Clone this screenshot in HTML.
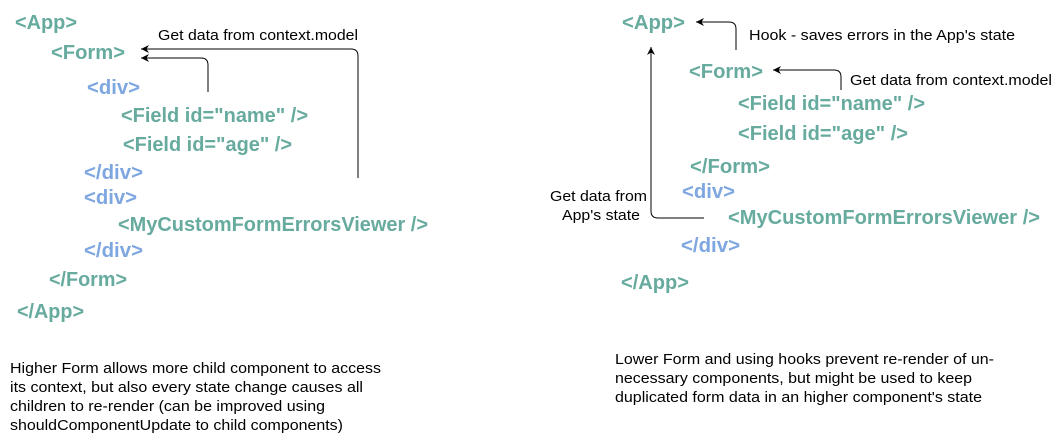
<!DOCTYPE html>
<html><head><meta charset="utf-8"><style>
html,body{margin:0;padding:0;background:#fff;width:1054px;height:433px;overflow:hidden}
svg{display:block}
.g{fill:#67AB9F;font:bold 20px "Liberation Sans",sans-serif}
.b{fill:#7EA6E0;font:bold 20px "Liberation Sans",sans-serif}
.t{fill:#000;font:15px "Liberation Sans",sans-serif}
</style></head><body>
<svg width="1054" height="433" viewBox="0 0 1054 433">
<defs><marker id="a" markerWidth="10" markerHeight="10" refX="8" refY="4" orient="auto" markerUnits="userSpaceOnUse"><path d="M0,0 L8,4 L0,8 L2.5,4 Z" fill="#000"/></marker></defs>
<g lengthAdjust="spacingAndGlyphs">
<!-- left -->
<text class="g" x="15" y="29" textLength="62" lengthAdjust="spacingAndGlyphs">&lt;App&gt;</text>
<text class="g" x="51" y="59" textLength="74" lengthAdjust="spacingAndGlyphs">&lt;Form&gt;</text>
<text class="b" x="87" y="94" textLength="53" lengthAdjust="spacingAndGlyphs">&lt;div&gt;</text>
<text class="g" x="121" y="122" textLength="187" lengthAdjust="spacingAndGlyphs">&lt;Field id="name" /&gt;</text>
<text class="g" x="123" y="151" textLength="169" lengthAdjust="spacingAndGlyphs">&lt;Field id="age" /&gt;</text>
<text class="b" x="84" y="179" textLength="59" lengthAdjust="spacingAndGlyphs">&lt;/div&gt;</text>
<text class="b" x="84" y="204" textLength="53" lengthAdjust="spacingAndGlyphs">&lt;div&gt;</text>
<text class="g" x="118" y="231" textLength="310" lengthAdjust="spacingAndGlyphs">&lt;MyCustomFormErrorsViewer /&gt;</text>
<text class="b" x="84" y="257" textLength="59" lengthAdjust="spacingAndGlyphs">&lt;/div&gt;</text>
<text class="g" x="49" y="286" textLength="78" lengthAdjust="spacingAndGlyphs">&lt;/Form&gt;</text>
<text class="g" x="17" y="318" textLength="67" lengthAdjust="spacingAndGlyphs">&lt;/App&gt;</text>
<text class="t" x="158" y="40" textLength="200" lengthAdjust="spacingAndGlyphs">Get data from context.model</text>
<path d="M358,178 V56 Q358,49 351,49 H141" fill="none" stroke="#000" stroke-width="1" marker-end="url(#a)"/>
<path d="M208,92 V65 Q208,58 201,58 H141" fill="none" stroke="#000" stroke-width="1" marker-end="url(#a)"/>
<text class="t" x="10" y="373" textLength="371" lengthAdjust="spacingAndGlyphs">Higher Form allows more child component to access</text>
<text class="t" x="10" y="392" textLength="353" lengthAdjust="spacingAndGlyphs">its context, but also every state change causes all</text>
<text class="t" x="10" y="411" textLength="315" lengthAdjust="spacingAndGlyphs">children to re-render (can be improved using</text>
<text class="t" x="10" y="430" textLength="333" lengthAdjust="spacingAndGlyphs">shouldComponentUpdate to child components)</text>
<!-- right -->
<text class="g" x="622" y="29" textLength="63" lengthAdjust="spacingAndGlyphs">&lt;App&gt;</text>
<text class="g" x="689" y="78" textLength="74" lengthAdjust="spacingAndGlyphs">&lt;Form&gt;</text>
<text class="g" x="738" y="110" textLength="187" lengthAdjust="spacingAndGlyphs">&lt;Field id="name" /&gt;</text>
<text class="g" x="738" y="140" textLength="170" lengthAdjust="spacingAndGlyphs">&lt;Field id="age" /&gt;</text>
<text class="g" x="690" y="173" textLength="80" lengthAdjust="spacingAndGlyphs">&lt;/Form&gt;</text>
<text class="b" x="682" y="198" textLength="53" lengthAdjust="spacingAndGlyphs">&lt;div&gt;</text>
<text class="g" x="728" y="224" textLength="312" lengthAdjust="spacingAndGlyphs">&lt;MyCustomFormErrorsViewer /&gt;</text>
<text class="b" x="681" y="252" textLength="59" lengthAdjust="spacingAndGlyphs">&lt;/div&gt;</text>
<text class="g" x="621" y="289" textLength="68" lengthAdjust="spacingAndGlyphs">&lt;/App&gt;</text>
<text class="t" x="749" y="40" textLength="266" lengthAdjust="spacingAndGlyphs">Hook - saves errors in the App's state</text>
<text class="t" x="850" y="85" textLength="202" lengthAdjust="spacingAndGlyphs">Get data from context.model</text>
<text class="t" x="550" y="201" textLength="97" lengthAdjust="spacingAndGlyphs">Get data from</text>
<text class="t" x="562" y="220" textLength="78" lengthAdjust="spacingAndGlyphs">App's state</text>
<path d="M736,50 V29 Q736,22 729,22 H696" fill="none" stroke="#000" stroke-width="1" marker-end="url(#a)"/>
<path d="M841,90 V77 Q841,70 834,70 H773" fill="none" stroke="#000" stroke-width="1" marker-end="url(#a)"/>
<path d="M704,218 H658 Q651,218 651,211 V47" fill="none" stroke="#000" stroke-width="1" marker-end="url(#a)"/>
<text class="t" x="615" y="364" textLength="379" lengthAdjust="spacingAndGlyphs">Lower Form and using hooks prevent re-render of un-</text>
<text class="t" x="615" y="383" textLength="357" lengthAdjust="spacingAndGlyphs">necessary components, but might be used to keep</text>
<text class="t" x="615" y="402" textLength="367" lengthAdjust="spacingAndGlyphs">duplicated form data in an higher component's state</text>
</g>
</svg>
</body></html>
